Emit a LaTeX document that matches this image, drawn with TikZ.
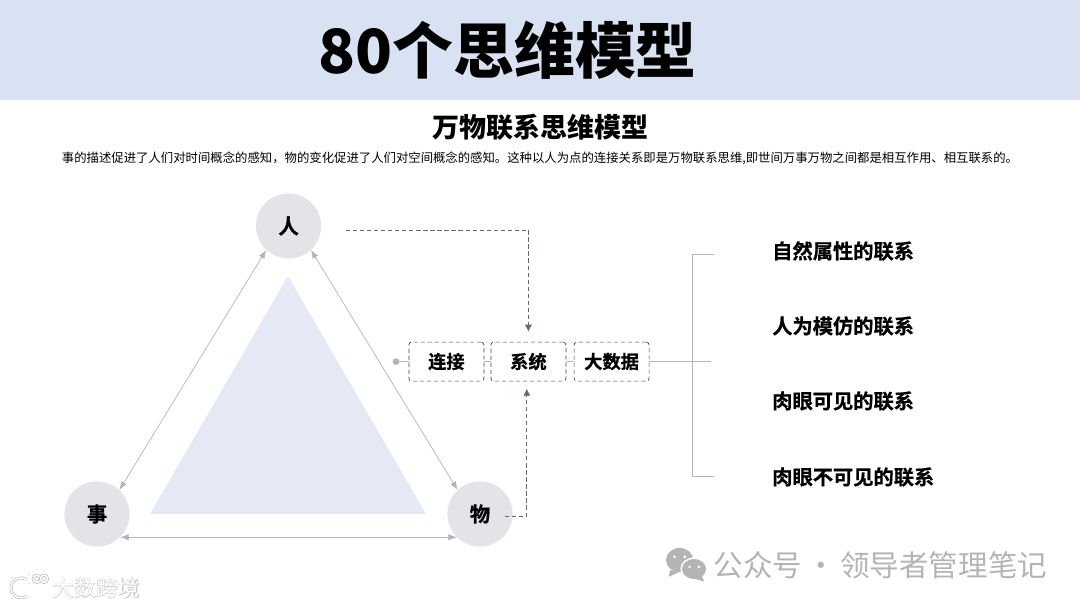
\documentclass[tikz,border=0pt]{standalone}
\usepackage{fontspec}
\setmainfont{Noto Sans CJK SC}
\newfontfamily\boldcjk[FakeBold=0.6]{Noto Sans CJK SC Bold}
\newfontfamily\heavycjk{Noto Sans CJK SC Black}
\newfontfamily\outlinecjk[FakeBold=3]{Noto Sans CJK SC}
\usetikzlibrary{positioning,arrows.meta}
\definecolor{band}{HTML}{D9E2F3}
\definecolor{tri}{HTML}{E4E9F5}
\definecolor{disc}{HTML}{E2E4E7}
\definecolor{thinline}{HTML}{B0B4BC}
\definecolor{dashline}{HTML}{5F6A7C}
\definecolor{stamp}{HTML}{B4B4B4}
\tikzset{
  person/.style={circle,fill=disc,minimum size=1.63cm,inner sep=0pt,font=\fontsize{14.5}{16}\boldcjk},
  termbox/.style={draw=black!75,line width=.5pt,densely dashed,rounded corners=2pt,minimum width=1.875cm,minimum height=.975cm,inner sep=0pt,font=\fontsize{13}{15}\boldcjk},
  linkitem/.style={anchor=west,inner sep=0pt,font=\fontsize{14.4}{16}\boldcjk},
  twoway/.style={draw=thinline,line width=.5pt,{Latex[length=6pt,width=4.5pt]}-{Latex[length=6pt,width=4.5pt]}},
  flow/.style={draw=dashline,densely dashed,line width=.5pt,-{Latex[length=5pt,width=5pt]}},
  plain/.style={draw=thinline,line width=.5pt},
  logostroke/.style={draw=black!35,line width=.35pt,double=white,double distance=1.2pt,line cap=round}
}
\begin{document}
\begin{tikzpicture}
    \useasboundingbox (0,0) rectangle (27,15.2);
    \fill[band] (0,12.7) rectangle (27,15.2);
    \node[font=\fontsize{43.3}{48}\heavycjk] (title) at (12.69,13.95) {80个思维模型};
    \node[font=\fontsize{19.2}{22}\heavycjk] (subtitle) at (13.51,12.03) {万物联系思维模型};
    \node[font=\fontsize{8.8}{11}\selectfont] (desc) at (13.5,11.23) {事的描述促进了人们对时间概念的感知，物的变化促进了人们对空间概念的感知。这种以人为点的连接关系即是万物联系思维,即世间万事万物之间都是相互作用、相互联系的。};

    \fill[tri] (7.2,8.3) -- (3.75,2.35) -- (10.65,2.35) -- cycle;
    \node[person] (ren) at (7.215,9.55) {人};
    \node[person] (shi) at (2.425,2.35) {事};
    \node[person] (wu) at (12,2.35) {物};
    \draw[twoway] (ren.227) -- (shi.47);
    \draw[twoway] (ren.313) -- (wu.133);
    \draw[twoway] (shi.-45) -- (wu.225);

    \node[termbox] (lianjie) at (11.16,6.16) {连接};
    \node[termbox] (xitong) at (13.21,6.16) {系统};
    \node[termbox] (dashuju) at (15.29,6.16) {大数据};
    \coordinate (renout) at (8.65,9.45);
    \coordinate (wuout) at (12.625,2.3);
    \draw[flow,shorten >=.25cm] (renout) -| (xitong.north);
    \draw[flow,shorten >=.18cm] (wuout) -| ([xshift=-.04cm]xitong.south);

    \coordinate (dot) at (9.9,6.16);
    \coordinate (fork) at (17.775,6.16);
    \fill[thinline] (dot) circle (.085);
    \draw[plain] (dot) -- (lianjie);
    \draw[plain] (lianjie) -- (xitong);
    \draw[plain] (xitong) -- (dashuju);
    \draw[plain] (dashuju) -- (fork);
    \coordinate (bracktop) at (17.85,8.85);
    \coordinate (brackbot) at (17.85,3.3);
    \draw[plain] (bracktop) -- (17.3,8.85) -- (17.3,3.3) -- (brackbot);

    \node[linkitem] (item1) at (19.3,8.925) {自然属性的联系};
    \node[linkitem] (item2) at (19.3,7.05) {人为模仿的联系};
    \node[linkitem] (item3) at (19.3,5.175) {肉眼可见的联系};
    \node[linkitem] (item4) at (19.3,3.275) {肉眼不可见的联系};

    \fill[stamp] (16.99,1.2) ellipse [x radius=.34,y radius=.3];
    \fill[stamp] (16.75,.95) -- (16.72,.78) -- (16.98,.9) -- cycle;
    \fill[white] (17.35,.975) ellipse [x radius=.34,y radius=.29];
    \fill[stamp] (17.35,.975) ellipse [x radius=.3,y radius=.25];
    \fill[stamp] (17.55,.8) -- (17.6,.66) -- (17.35,.74) -- cycle;
    \foreach \ex in {16.86,17.12} \fill[white] (\ex,1.28) circle (.04);
    \foreach \ex in {17.24,17.47} \fill[white] (\ex,1.03) circle (.035);
    \node[anchor=west,inner sep=0pt,text=stamp,font=\fontsize{21}{24}\selectfont] (gzh) at (17.84,1.075) {公众号\kern3pt·\kern3pt领导者管理笔记};

    \draw[logostroke] (.3,.75) -- (.3,.25);
    \draw[logostroke] (.65,.72) arc (60:300:.25);
    \draw[logostroke] (.725,.825) -- (.725,.625);
    \foreach \ox in {.92,1.1} \draw[logostroke] (\ox,.73) circle (.09);
    \node[text=black!22,font=\fontsize{15.6}{18}\outlinecjk] (brandback) at (2.4,.5) {大数跨境};
    \node[text=white,font=\fontsize{15.6}{18}\selectfont] (brand) at (2.4,.5) {大数跨境};
  \end{tikzpicture}
\end{document}
